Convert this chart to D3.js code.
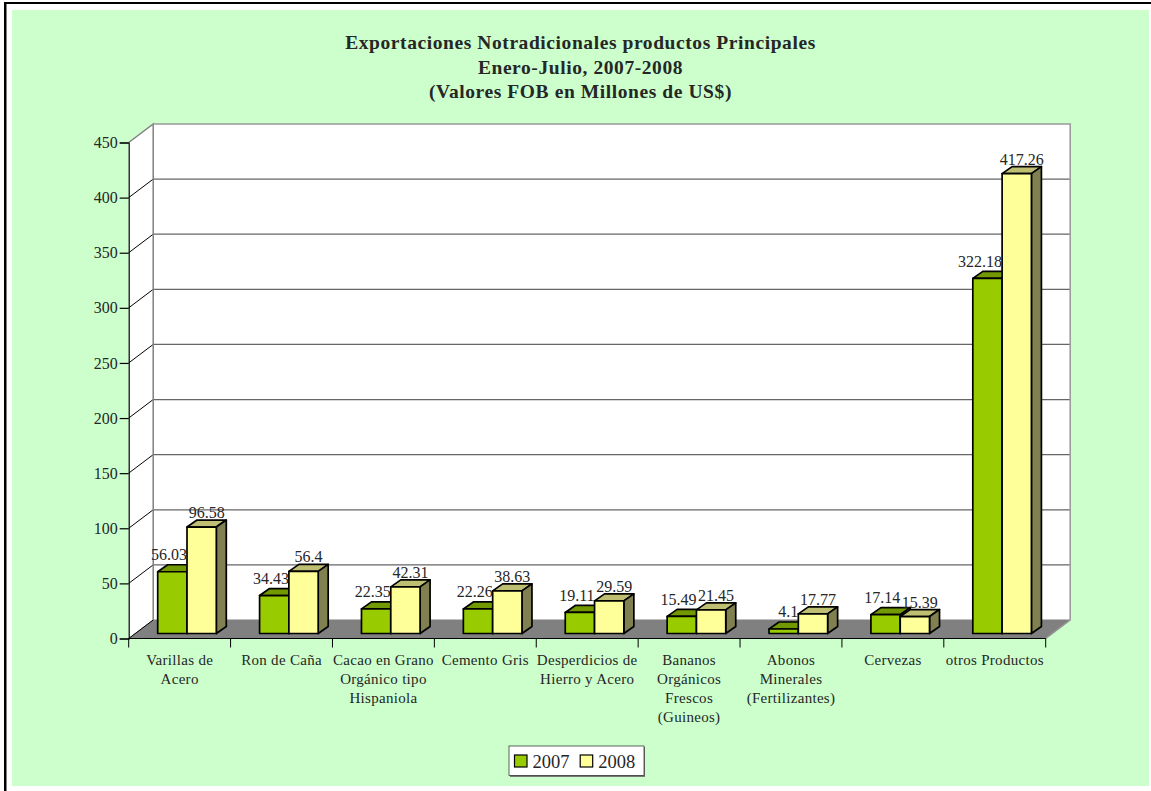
<!DOCTYPE html>
<html>
<head>
<meta charset="utf-8">
<script src="https://cdn.jsdelivr.net/npm/d3@7"></script>
<style>
body { margin: 0; background: #fff; }
svg { display: block; }
text { font-family: "Liberation Serif", serif; fill: #262626; }
</style>
</head>
<body>
<div id="container"></div>
<script>
const titleLines = [
    "Exportaciones Notradicionales productos Principales",
    "Enero-Julio, 2007-2008",
    "(Valores FOB en Millones de US$)"
];
const categories = [
    ["Varillas de", "Acero"],
    ["Ron de Caña"],
    ["Cacao en Grano", "Orgánico tipo", "Hispaniola"],
    ["Cemento Gris"],
    ["Desperdicios de", "Hierro y Acero"],
    ["Bananos", "Orgánicos", "Frescos", "(Guineos)"],
    ["Abonos", "Minerales", "(Fertilizantes)"],
    ["Cervezas"],
    ["otros Productos"]
];
const seriesNames = ["2007", "2008"];
const values2007 = [56.03, 34.43, 22.35, 22.26, 19.11, 15.49, 4.1, 17.14, 322.18];
const values2008 = [96.58, 56.4, 42.31, 38.63, 29.59, 21.45, 17.77, 15.39, 417.26];
const yTicks = [0, 50, 100, 150, 200, 250, 300, 350, 400, 450];

const width = 1151;
const height = 791;

// plot box, front plane of the fake 3d
const left = 128.7, right = 1045.7, top3d = 142.5, bottom = 638.5;
const wallDx = 24.5, wallDy = -18.5;   // depth of the walls
const barDx = 10, barDy = -7;          // depth of one bar
const barOffX = 7, barOffY = -5;       // bars stand a bit behind the axis

const colors = {
    "2007": { front: "#99cc00", top: "#739900", side: "#668800" },
    "2008": { front: "#ffff99", top: "#bfbf73", side: "#808050" }
};

const y = d3.scaleLinear().domain([0, 450]).range([bottom, top3d]);
const x0 = d3.scaleBand().domain(d3.range(categories.length)).range([left, right]);
const x1 = d3.scaleBand().domain(seriesNames).range([22, 80.6]);

const svg = d3.create("svg")
    .attr("width", width)
    .attr("height", height)
    .attr("viewBox", [0, 0, width, height]);

// page frame
svg.append("rect").attr("x", 12).attr("y", 10).attr("width", 1137).attr("height", 776).attr("fill", "#ccffcc");
svg.append("rect").attr("x", 4).attr("y", 2).attr("width", 1147).attr("height", 2).attr("fill", "#000");
svg.append("rect").attr("x", 4).attr("y", 2).attr("width", 2.5).attr("height", 789).attr("fill", "#000");

// title
svg.append("g").selectAll("text")
    .data(titleLines)
    .join("text")
    .attr("x", 580.5)
    .attr("y", (d, i) => [49, 74, 98][i])
    .attr("text-anchor", "middle")
    .attr("font-weight", "bold")
    .attr("font-size", 19.5)
    .attr("letter-spacing", 0.58)
    .text(d => d);

// walls and floor
const pts = a => a.map(p => p.join(",")).join(" ");
const gray = "#808080";
svg.append("polygon")
    .attr("points", pts([[left, top3d], [left + wallDx, top3d + wallDy], [right + wallDx, top3d + wallDy], [right + wallDx, bottom + wallDy], [left + wallDx, bottom + wallDy], [left, bottom]]))
    .attr("fill", "#fff");
svg.append("polygon")
    .attr("points", pts([[left, bottom], [left + wallDx, bottom + wallDy], [right + wallDx, bottom + wallDy], [right, bottom]]))
    .attr("fill", gray)
    .attr("stroke", gray);

// gridlines, back wall and left wall
const grid = svg.append("g");
yTicks.slice(1, -1).forEach(t => {
    grid.append("line").attr("x1", left + wallDx).attr("x2", right + wallDx)
        .attr("y1", y(t) + wallDy).attr("y2", y(t) + wallDy)
        .attr("stroke", "#666").attr("stroke-width", 1.3);
});
yTicks.slice(0, -1).forEach(t => {
    grid.append("line").attr("x1", left).attr("x2", left + wallDx)
        .attr("y1", y(t)).attr("y2", y(t) + wallDy)
        .attr("stroke", "#000").attr("stroke-width", 1);
});
svg.append("polyline")
    .attr("points", pts([[left, top3d], [left + wallDx, top3d + wallDy], [left + wallDx, bottom + wallDy]]))
    .attr("fill", "none").attr("stroke", gray).attr("stroke-width", 1.5);
svg.append("polyline")
    .attr("points", pts([[left + wallDx, top3d + wallDy], [right + wallDx, top3d + wallDy], [right + wallDx, bottom + wallDy], [right, bottom]]))
    .attr("fill", "none").attr("stroke", "#999").attr("stroke-width", 1.5);

// axes
const yAxis = svg.append("g")
    .attr("transform", `translate(${left},0)`)
    .call(d3.axisLeft(y).tickValues(yTicks).tickSize(9).tickPadding(2).tickFormat(d3.format("d")));
yAxis.selectAll("text").attr("font-size", 16).attr("font-family", null);
yAxis.selectAll("line").attr("stroke", "#000").attr("stroke-width", 1.2);
yAxis.select(".domain").attr("stroke", "#000").attr("stroke-width", 1.2);

const xAxis = svg.append("g")
    .attr("transform", `translate(0,${bottom})`);
xAxis.append("line").attr("x1", left).attr("x2", right).attr("stroke", "#000").attr("stroke-width", 1.2);
d3.range(categories.length + 1).forEach(i => {
    const xt = i < categories.length ? x0(i) : right;
    xAxis.append("line").attr("x1", xt).attr("x2", xt).attr("y2", 9).attr("stroke", "#000").attr("stroke-width", 1);
});
const catLabels = xAxis.selectAll(".cat")
    .data(categories)
    .join("text")
    .attr("class", "cat")
    .attr("text-anchor", "middle")
    .attr("font-size", 15)
    .attr("letter-spacing", 0.3);
catLabels.selectAll("tspan")
    .data((d, i) => d.map(line => ({ line, i })))
    .join("tspan")
    .attr("x", d => x0(d.i) + x0.bandwidth() / 2)
    .attr("y", (d, j) => 26.5 + j * 19)
    .text(d => d.line);

// bars, each one a front, a top and a side
const series = [
    { name: "2007", values: values2007 },
    { name: "2008", values: values2008 }
];
const bars = svg.append("g").attr("stroke", "#000").attr("stroke-width", 1.7).attr("stroke-linejoin", "round");
categories.forEach((c, i) => {
    // 2008 last, it covers the side of 2007
    series.forEach(s => {
        const v = s.values[i];
        const c3 = colors[s.name];
        const xa = x0(i) + x1(s.name) + barOffX;
        const xb = xa + x1.bandwidth();
        const yt = y(v) + barOffY;
        const yb = y(0) + barOffY;
        bars.append("polygon")
            .attr("points", pts([[xa, yt], [xa + barDx, yt + barDy], [xb + barDx, yt + barDy], [xb, yt]]))
            .attr("fill", c3.top);
        bars.append("polygon")
            .attr("points", pts([[xb, yt], [xb + barDx, yt + barDy], [xb + barDx, yb + barDy], [xb, yb]]))
            .attr("fill", c3.side);
        bars.append("rect")
            .attr("x", xa).attr("y", yt)
            .attr("width", x1.bandwidth()).attr("height", yb - yt)
            .attr("fill", c3.front);
    });
});

// value labels on top: 2007 ends at the edge of its bar, 2008 is centred
const labels = svg.append("g").attr("font-size", 16);
series.forEach(s => {
    const isFirst = s.name === "2007";
    s.values.forEach((v, i) => {
        const xa = x0(i) + x1(s.name) + barOffX;
        labels.append("text")
            .attr("text-anchor", isFirst ? "end" : "middle")
            .attr("x", isFirst ? xa + x1.bandwidth() : xa + (x1.bandwidth() + barDx) / 2)
            .attr("y", y(v) + barOffY + barDy - (isFirst ? 4.5 : 2))
            .text(v);
    });
});

// legend
const legend = svg.append("g").attr("transform", "translate(509,746)");
legend.append("rect").attr("x", 1).attr("y", 1).attr("width", 135).attr("height", 30).attr("fill", "#777");
legend.append("rect").attr("width", 135).attr("height", 29.5).attr("fill", "#fff").attr("stroke", "#222").attr("stroke-width", 0.7);
seriesNames.forEach((name, i) => {
    const g = legend.append("g").attr("transform", `translate(${5.5 + i * 65.7},9)`);
    g.append("rect").attr("width", 12.5).attr("height", 12).attr("fill", colors[name].front).attr("stroke", "#000").attr("stroke-width", 1.2);
    g.append("text").attr("x", 18).attr("y", 13).attr("font-size", 18.5).text(name);
});

document.getElementById("container").append(svg.node());
</script>
</body>
</html>
